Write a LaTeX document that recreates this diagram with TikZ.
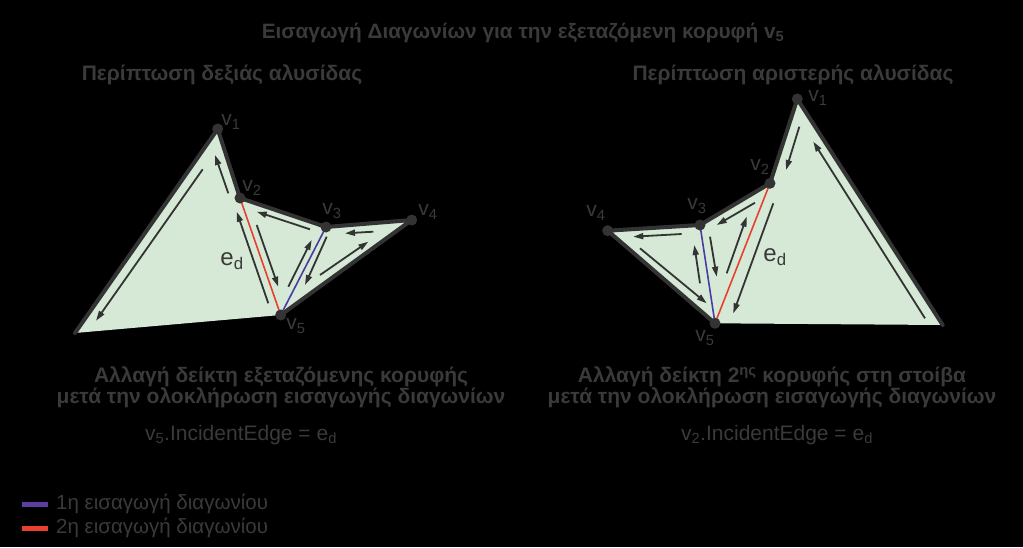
\documentclass[tikz,border=0pt]{standalone}
\usepackage{fontspec}
\setmainfont{Liberation Sans}
\usetikzlibrary{arrows.meta}
\definecolor{txt}{HTML}{3A3A3A}
\definecolor{edgec}{HTML}{333333}
\definecolor{polyfill}{HTML}{D5E9D6}
\definecolor{diagred}{HTML}{E8402F}
\definecolor{diagblue}{HTML}{4A3CA0}
\definecolor{legpurple}{HTML}{5A3EA0}
\tikzset{
  vdot/.style={circle,fill=edgec,inner sep=0pt,minimum size=11pt},
  edgeline/.style={draw=edgec,line width=4pt,line join=round,line cap=round},
  halfedge/.style={draw=edgec,line width=1.8pt,-{Triangle[length=10pt,width=6pt]}},
  lab/.style={text=txt,font=\fontsize{21}{24}\selectfont,inner sep=0pt},
  edlab/.style={text=txt,font=\fontsize{24}{28}\selectfont,inner sep=0pt},
  head/.style={text=txt,font=\fontsize{21}{24}\selectfont\bfseries,inner sep=0pt},
  title/.style={text=txt,font=\fontsize{20.8}{24}\selectfont\bfseries,inner sep=0pt},
  body/.style={text=txt,font=\fontsize{21}{24}\selectfont,inner sep=0pt},
  legtxt/.style={text=txt,font=\fontsize{20.5}{24}\selectfont,inner sep=0pt,anchor=west},
  diag/.style={line width=1.6pt},
}
\begin{document}
\begin{tikzpicture}[x=1pt,y=-1pt]
\fill[black] (0,0) rectangle (1023,547);
\useasboundingbox (0,0) rectangle (1023,547);

% ---------- left polygon ----------
\coordinate (LBL) at (75,333);
\coordinate (LP1) at (217.7,129);
\coordinate (LP2) at (240,198);
\coordinate (LP3) at (326,227);
\coordinate (LP4) at (411.7,220);
\coordinate (LP5) at (280.7,315);
\fill[polyfill] (LBL) -- (LP1) -- (LP2) -- (LP3) -- (LP4) -- (LP5) -- cycle;
\draw[edgeline] (LBL) -- (LP1) -- (LP2) -- (LP3) -- (LP4) -- (LP5);
\draw[diag,diagred] (LP2) -- (LP5);
\draw[diag,diagblue] (LP3) -- (LP5);
\node[vdot] (L1) at (LP1) {};
\node[vdot] (L2) at (LP2) {};
\node[vdot] (L3) at (LP3) {};
\node[vdot] (L4) at (LP4) {};
\node[vdot] (L5) at (LP5) {};
% half edges
\draw[halfedge] (202.7,169.3) -- (96,320.7);
\draw[halfedge] (228.3,193.3) -- (215,155);
\draw[halfedge] (268.3,303.3) -- (236.7,211.7);
\draw[halfedge] (256.7,225) -- (278.3,286.7);
\draw[halfedge] (310,229.3) -- (256.7,211.7);
\draw[halfedge] (288.3,286.7) -- (311.7,240);
\draw[halfedge] (326.7,236.7) -- (305,285);
\draw[halfedge] (373.3,231.7) -- (345,233.3);
\draw[halfedge] (320,275) -- (368.3,241.7);
% labels
\node[lab] (lv1) at (231,122) {v\textsubscript{1}};
\node[lab] (lv2) at (252,188) {v\textsubscript{2}};
\node[lab] (lv3) at (332,211) {v\textsubscript{3}};
\node[lab] (lv4) at (428,212) {v\textsubscript{4}};
\node[lab] (lv5) at (296,326) {v\textsubscript{5}};
\node[edlab] (led) at (232,261) {e\textsubscript{d}};

% ---------- right polygon ----------
\coordinate (RBR) at (942.7,325);
\coordinate (RP1) at (797.3,99);
\coordinate (RP2) at (770,183.3);
\coordinate (RP3) at (700,225);
\coordinate (RP4) at (607.7,230.7);
\coordinate (RP5) at (715,323.3);
\fill[polyfill] (RP5) -- (RP4) -- (RP3) -- (RP2) -- (RP1) -- (RBR) -- cycle;
\draw[edgeline] (RP5) -- (RP4) -- (RP3) -- (RP2) -- (RP1) -- (RBR);
\draw[diag,diagred] (RP2) -- (RP5);
\draw[diag,diagblue] (RP3) -- (RP5);
\node[vdot] (R1) at (RP1) {};
\node[vdot] (R2) at (RP2) {};
\node[vdot] (R3) at (RP3) {};
\node[vdot] (R4) at (RP4) {};
\node[vdot] (R5) at (RP5) {};
% half edges
\draw[halfedge] (799.3,126.7) -- (786,170);
\draw[halfedge] (925,318.3) -- (813.3,141.7);
\draw[halfedge] (773.3,203.3) -- (733.3,313.3);
\draw[halfedge] (726.7,273.3) -- (746.7,216.7);
\draw[halfedge] (755,202.7) -- (716.7,225);
\draw[halfedge] (710,236.7) -- (716.7,276.7);
\draw[halfedge] (700,283.3) -- (694.3,245);
\draw[halfedge] (681.7,234) -- (633.3,236.7);
\draw[halfedge] (640,248.3) -- (706.7,303.3);
% labels
\node[lab] (rv1) at (818,98) {v\textsubscript{1}};
\node[lab] (rv2) at (760,167) {v\textsubscript{2}};
\node[lab] (rv3) at (697,206) {v\textsubscript{3}};
\node[lab] (rv4) at (596,213) {v\textsubscript{4}};
\node[lab] (rv5) at (705,338) {v\textsubscript{5}};
\node[edlab] (red) at (775,257) {e\textsubscript{d}};

% ---------- texts ----------
\node[title] (ttl) at (523,33) {Εισαγωγή Διαγωνίων για την εξεταζόμενη κορυφή v\textsubscript{5}};
\node[head] (hl) at (222,75) {Περίπτωση δεξιάς αλυσίδας};
\node[head] (hr) at (793,75) {Περίπτωση αριστερής αλυσίδας};
\node[head] (bl1) at (281,377) {Αλλαγή δείκτη εξεταζόμενης κορυφής};
\node[head] (bl2) at (281,398) {μετά την ολοκλήρωση εισαγωγής διαγωνίων};
\node[body] (bl3) at (241,435) {v\textsubscript{5}.IncidentEdge = e\textsubscript{d}};
\node[head] (br1) at (772,377) {Αλλαγή δείκτη 2\textsuperscript{ης} κορυφής στη στοίβα};
\node[head] (br2) at (772,398) {μετά την ολοκλήρωση εισαγωγής διαγωνίων};
\node[body] (br3) at (777,435) {v\textsubscript{2}.IncidentEdge = e\textsubscript{d}};

% ---------- legend ----------
\coordinate (lg1a) at (22,504);
\coordinate (lg1b) at (48,504);
\coordinate (lg2a) at (22,528);
\coordinate (lg2b) at (48,528);
\draw[legpurple,line width=5pt] (lg1a) -- (lg1b);
\draw[diagred,line width=5pt] (lg2a) -- (lg2b);
\node[legtxt] (lt1) at (56,504) {1η εισαγωγή διαγωνίου};
\node[legtxt] (lt2) at (56,528) {2η εισαγωγή διαγωνίου};
\end{tikzpicture}
\end{document}
